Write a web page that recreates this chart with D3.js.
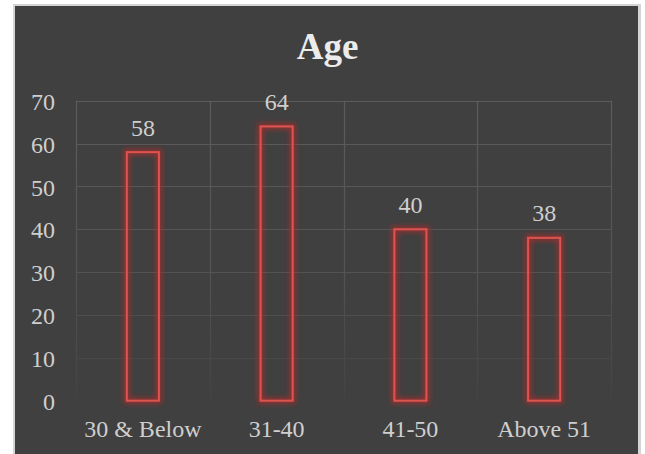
<!DOCTYPE html>
<html><head><meta charset="utf-8">
<script src="https://cdn.jsdelivr.net/npm/d3@7"></script>
<style>html,body{margin:0;padding:0;background:#fff;}svg{display:block;}</style>
</head><body>
<svg id="c" width="645" height="454"></svg>
<script>
const categories = ["30 & Below", "31-40", "41-50", "Above 51"];
const values = [58, 64, 40, 38];
const yTicks = [0, 10, 20, 30, 40, 50, 60, 70];
const title = "Age";

(function(){
const svg = d3.select("#c");
const defs = svg.append("defs");
const grad = defs.append("linearGradient").attr("id","gridGrad")
  .attr("gradientUnits","userSpaceOnUse").attr("x1",0).attr("x2",0).attr("y1",100).attr("y2",401);
grad.append("stop").attr("offset","0").attr("stop-color","#5c5c5c");
grad.append("stop").attr("offset","0.55").attr("stop-color","#545454");
grad.append("stop").attr("offset","1").attr("stop-color","#434343");
const f = defs.append("filter").attr("id","glow").attr("x","-50%").attr("y","-20%").attr("width","200%").attr("height","140%");
f.append("feMorphology").attr("in","SourceAlpha").attr("operator","dilate").attr("radius",1.5).attr("result","d");
f.append("feGaussianBlur").attr("in","d").attr("stdDeviation",2.8).attr("result","b");
f.append("feFlood").attr("flood-color","#b02a2a").attr("flood-opacity",0.75).attr("result","c");
f.append("feComposite").attr("in","c").attr("in2","b").attr("operator","in").attr("result","gl");
const fm = f.append("feMerge");
fm.append("feMergeNode").attr("in","gl");
fm.append("feMergeNode").attr("in","SourceGraphic");

svg.append("rect").attr("x",13).attr("y",4).attr("width",628).attr("height",460).attr("fill","#d4d4d4");
svg.append("rect").attr("x",15).attr("y",6).attr("width",623).attr("height",460).attr("fill","#404040");

const pL = 76, pR = 611, pT = 100.7, pB = 400.7;
const x = d3.scaleBand().domain(categories).range([pL, pR]).padding(0);
const y = d3.scaleLinear().domain([0, 70]).range([pB, pT]);

const g = svg.append("g");
g.selectAll("line.h").data(yTicks.filter(d => d > 0)).join("line")
  .attr("x1", pL).attr("x2", pR)
  .attr("y1", d => Math.round(y(d)) + 0.5).attr("y2", d => Math.round(y(d)) + 0.5)
  .attr("stroke", "url(#gridGrad)").attr("stroke-width", 1.2);
const vx = categories.map(c => x(c)).concat([pR]);
g.selectAll("line.v").data(vx).join("line")
  .attr("x1", d => Math.round(d) + 0.5).attr("x2", d => Math.round(d) + 0.5)
  .attr("y1", pT).attr("y2", pB)
  .attr("stroke", "url(#gridGrad)").attr("stroke-width", 1.2);

const font = "'Liberation Serif','Times New Roman',serif";
g.selectAll("text.yt").data(yTicks).join("text")
  .attr("x", 55).attr("y", d => y(d)).attr("dy", "0.38em")
  .attr("text-anchor", "end").attr("font-family", font).attr("font-size", 24)
  .attr("fill", "#cfcfcf").text(d => d);

g.selectAll("text.xt").data(categories).join("text")
  .attr("x", d => x(d) + x.bandwidth()/2).attr("y", 437)
  .attr("text-anchor", "middle").attr("font-family", font).attr("font-size", 24)
  .attr("fill", "#cfcfcf").text(d => d);

const bw = x.bandwidth() * 0.24;
g.selectAll("rect.bar").data(values).join("rect")
  .attr("x", (d,i) => x(categories[i]) + x.bandwidth()/2 - bw/2)
  .attr("y", d => y(d))
  .attr("width", bw).attr("height", d => pB - y(d))
  .attr("fill", "none").attr("stroke", "#dc524f").attr("stroke-width", 2)
  .attr("filter", "url(#glow)");

g.selectAll("text.dl").data(values).join("text")
  .attr("x", (d,i) => x(categories[i]) + x.bandwidth()/2)
  .attr("y", d => y(d) - 16.5)
  .attr("text-anchor", "middle").attr("font-family", font).attr("font-size", 24)
  .attr("fill", "#cfcfcf").text(d => d);

svg.append("text").attr("x", 327.5).attr("y", 59).attr("text-anchor", "middle")
  .attr("font-family", font).attr("font-size", 37).attr("font-weight", "bold")
  .attr("fill", "#ececec").text(title);
})();
</script>
</body></html>
